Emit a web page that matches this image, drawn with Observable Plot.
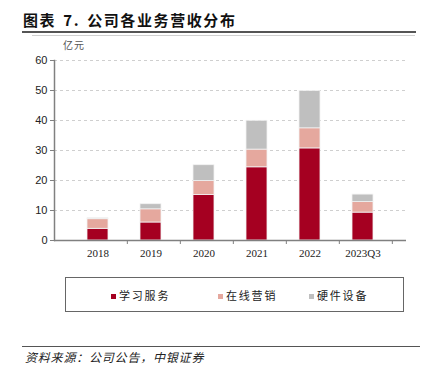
<!DOCTYPE html>
<html><head><meta charset="utf-8">
<script src="https://cdn.jsdelivr.net/npm/d3@7"></script>
<script src="https://cdn.jsdelivr.net/npm/@observablehq/plot@0.6"></script>
<style>
body{margin:0;background:#fff;}
#wrap{position:relative;width:428px;height:366px;overflow:hidden;font-family:"Noto Sans CJK SC",sans-serif;}
#title{position:absolute;left:23px;top:9px;font-size:15px;font-weight:bold;color:#111;letter-spacing:1.6px;word-spacing:2px;}
#rule1{position:absolute;left:22px;top:31px;width:394px;height:2px;background:#555;}
#rule2{position:absolute;left:32px;top:35px;width:383px;height:1px;background:#d0d0d0;}
#unit{position:absolute;left:63px;top:37px;font-size:10px;color:#555;letter-spacing:1px;}
#chart{position:absolute;left:0;top:36px;}
#legend{position:absolute;left:65px;top:277px;width:339px;height:35px;border:1px solid #666;box-sizing:border-box;}
.li{position:absolute;top:10px;font-size:11px;color:#222;letter-spacing:1.8px;line-height:14px;}
.sw{display:inline-block;width:5px;height:5px;margin-right:3px;vertical-align:1px;}
#rule3{position:absolute;left:22px;top:346px;width:398px;height:1px;background:#555;}
#foot{position:absolute;left:25px;top:348px;font-size:12px;font-style:italic;color:#222;letter-spacing:0.8px;}
</style></head>
<body>
<div id="wrap">
  <div id="title">图表 7. 公司各业务营收分布</div>
  <div id="rule1"></div>
  <div id="rule2"></div>
  <div id="chart"></div>
  <div id="unit">亿元</div>
  <div id="legend"></div>
  <div id="rule3"></div>
  <div id="foot">资料来源：公司公告，中银证券</div>
</div>
<script>
const categories = ["2018","2019","2020","2021","2022","2023Q3"];
const series = ["学习服务","在线营销","硬件设备"];
const colors = ["#A50021","#E5A89E","#BFBFBF"];
const learning = [3.9, 6.0, 15.2, 24.4, 30.7, 9.3];
const marketing = [3.2, 4.4, 4.6, 5.9, 6.7, 3.5];
const hardware = [0.3, 1.7, 5.3, 9.6, 12.4, 2.5];
const yTicks = [0,10,20,30,40,50,60];

const seriesValues = [learning, marketing, hardware];
const data = [];
series.forEach((s, si) => categories.forEach((c, ci) => data.push({year: c, series: s, value: seriesValues[si][ci]})));

const W = 428, H = 230, mL = 54, mR = 22;
const step = (W - mL - mR) / categories.length;

const chart = Plot.plot({
  width: W, height: H,
  marginTop: 24, marginBottom: 26, marginLeft: mL, marginRight: mR,
  x: {domain: categories, padding: 0.6, label: null, axis: null},
  y: {domain: [0, 60], ticks: yTicks, label: null, axis: null},
  color: {domain: series, range: colors},
  marks: [
    Plot.gridY(yTicks.filter(d => d > 0), {stroke: "#cfcfcf", strokeOpacity: 1, strokeDasharray: "3,3"}),
    Plot.barY(data, Plot.stackY({x: "year", y: "value", fill: "series", order: series, stroke: "#f2f2f2", strokeWidth: 0.8})),
    Plot.axisY(yTicks, {anchor: "left", tickSize: 4, tickPadding: 3, stroke: "#808080", fontSize: 11, fontFamily: "Liberation Sans, Arial, sans-serif", fill: "#222"}),
    Plot.frame({anchor: "left", stroke: "#808080", strokeWidth: 1.5}),
    Plot.ruleY([0], {stroke: "#808080", strokeWidth: 1.5}),
    Plot.axisX({anchor: "bottom", tickSize: 4, text: null, dx: step / 2, stroke: "#808080"}),
    Plot.axisX({anchor: "bottom", tickSize: 0, tickPadding: 9, fontSize: 11, fontFamily: "Liberation Serif, Times New Roman, serif", fill: "#222"})
  ],
  style: {background: "transparent", overflow: "visible"}
});
document.getElementById("chart").appendChild(chart);

const lg = document.getElementById("legend");
const lx = [45, 152, 243];
series.forEach((s, i) => {
  const d = document.createElement("div");
  d.className = "li";
  d.style.left = lx[i] + "px";
  d.innerHTML = `<span class="sw" style="background:${colors[i]}"></span>${s}`;
  lg.appendChild(d);
});
</script>
</body></html>
